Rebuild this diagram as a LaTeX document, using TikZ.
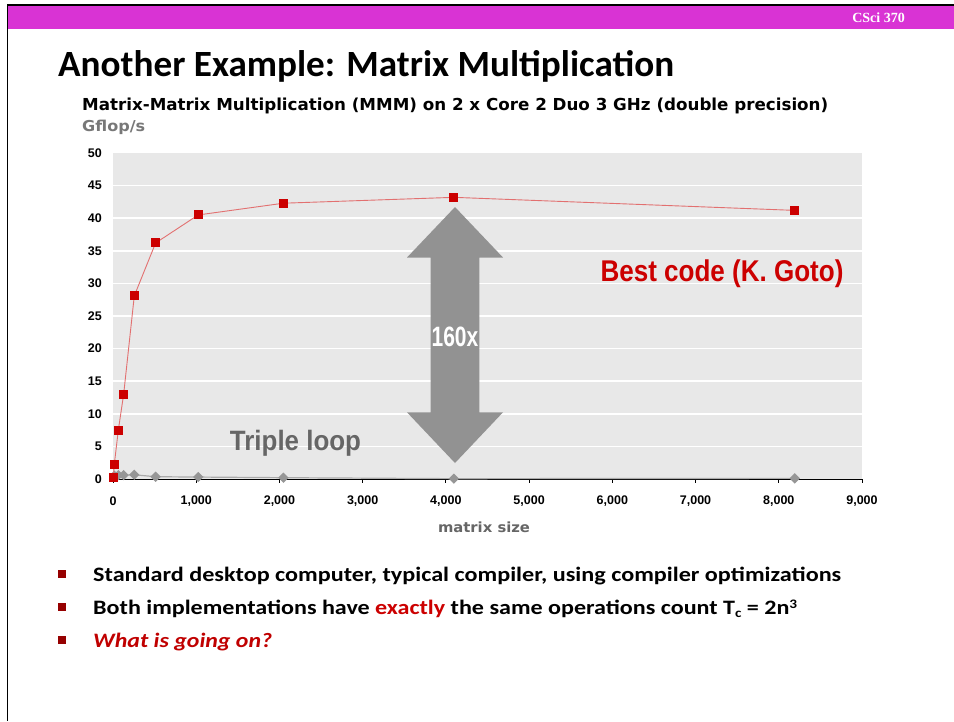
\documentclass[tikz,border=0pt]{standalone}
\usepackage{fontspec}
\usepackage{graphicx}
\usetikzlibrary{shapes.geometric}
\setmainfont{Carlito}
\newfontfamily\arialf{Liberation Sans}
\newfontfamily\verdf{DejaVu Sans}
\newfontfamily\timesf{Liberation Serif}
\definecolor{magbar}{RGB}{217,51,212}
\definecolor{plotbg}{RGB}{232,232,232}
\definecolor{bestred}{RGB}{204,0,0}
\definecolor{linered}{RGB}{226,112,112}
\definecolor{arrowgray}{RGB}{146,146,146}
\definecolor{diagray}{RGB}{150,150,150}
\definecolor{dialine}{RGB}{170,170,170}
\definecolor{txtgray}{RGB}{102,102,102}
\definecolor{lblgray}{RGB}{120,120,120}
\definecolor{bulletred}{RGB}{150,0,0}
\definecolor{darkred}{RGB}{192,0,0}
\tikzset{
  redsq/.style={rectangle, fill=bestred, draw=none, minimum size=9pt, inner sep=0pt},
  graydia/.style={diamond, fill=diagray, draw=none, minimum size=10.5pt, inner sep=0pt, aspect=1},
  ylab/.style={anchor=east, font=\arialf\bfseries\fontsize{12.5}{14}\selectfont, inner sep=0pt, xshift=-11pt},
  xlab/.style={anchor=center, font=\arialf\bfseries\fontsize{12.5}{14}\selectfont, inner sep=0pt, yshift=-22.5pt},
  bulletsq/.style={rectangle, fill=bulletred, draw=none, minimum size=8.5pt, inner sep=0pt},
  bullettext/.style={anchor=base west, inner sep=0pt, font=\bfseries\fontsize{20.5}{24}\selectfont},
  bigred/.style={anchor=base, inner sep=0pt, text=bestred, font=\arialf\bfseries\fontsize{30}{34}\selectfont},
}
\begin{document}
\begin{tikzpicture}[x=1pt,y=-1pt]
\useasboundingbox (0,0) rectangle (954,721);
\fill[white] (0,0) rectangle (954,721);
% header bar and frame
\fill[magbar] (8.3,6) rectangle (954,29);
\fill[black] (7,4) rectangle (954,6);
\fill[black] (7,4) rectangle (8.3,721);
\node[anchor=base east, inner sep=0pt, text=white, font=\timesf\bfseries\fontsize{14}{16}\selectfont] (course) at (905,22) {CSci 370};
% title
\node[anchor=base west, inner sep=0pt, font=\bfseries\fontsize{37}{40}\selectfont] (title) at (58,76)
  {\resizebox{616pt}{\height}{Another Example: Matrix Multiplication}};
% chart title
\node[anchor=base west, inner sep=0pt, font=\verdf\bfseries\fontsize{16.5}{18}\selectfont] (ctitle) at (82,110)
  {\resizebox{746pt}{\height}{Matrix-Matrix Multiplication (MMM) on 2 x Core 2 Duo 3 GHz (double precision)}};
\node[anchor=base west, inner sep=0pt, text=lblgray, font=\verdf\bfseries\fontsize{15}{16}\selectfont] (gflops) at (82,131)
  {\resizebox{63pt}{\height}{Gflop/s}};
% plot
\begin{scope}[xshift=113pt, yshift=-479pt, x=0.083222pt, y=6.52pt]
  \fill[plotbg] (0,0) rectangle (9000,50);
  \foreach \v in {5,10,...,45} \draw[white, line width=1.5pt] (0,\v) -- (9000,\v);
  \draw[black, line width=1pt] (0,0) -- (9000,0);
  \foreach \t in {0,1000,...,9000} \draw[black, line width=0.8pt] (\t,0) -- (\t,-0.6);
  \foreach \v in {0,5,...,50} \node[ylab] (yl\v) at (0,\v) {\v};
  \foreach \t/\lab [count=\k] in {0/0,1000/{1,000},2000/{2,000},3000/{3,000},4000/{4,000},5000/{5,000},6000/{6,000},7000/{7,000},8000/{8,000},9000/{9,000}}
    \node[xlab] (xl\k) at (\t,0) {\lab};
  % triple loop series
  \foreach \px/\py [count=\i] in {16/0.5,64/0.6,128/0.6,256/0.65,512/0.35,1024/0.3,2048/0.2,4096/0.05,8192/0.1}
    \coordinate (g\i) at (\px,\py);
  \foreach \i [evaluate=\i as \j using int(\i+1)] in {1,...,8} \draw[dialine, line width=1.2pt] (g\i) -- (g\j);
  \foreach \i in {1,...,9} \node[graydia] (gd\i) at (g\i) {};
  % best code series
  \foreach \px/\py [count=\i] in {4/0.3,16/2.3,64/7.5,128/13,256/28.1,512/36.2,1024/40.5,2048/42.3,4096/43.2,8192/41.2}
    \coordinate (r\i) at (\px,\py);
  \foreach \i [evaluate=\i as \j using int(\i+1)] in {1,...,9} \draw[linered, line width=0.9pt] (r\i) -- (r\j);
  \foreach \i in {1,...,10} \node[redsq] (rs\i) at (r\i) {};
\end{scope}
\node[anchor=base, inner sep=0pt, text=txtgray, font=\verdf\bfseries\fontsize{14}{16}\selectfont] (xtitle) at (484,532)
  {\resizebox{92pt}{\height}{matrix size}};
% 160x arrow
\fill[arrowgray] (455,207) -- (503,257.5) -- (479.3,257.5) -- (479.3,412.3) -- (503,412.3) -- (455,463)
  -- (407,412.3) -- (430.7,412.3) -- (430.7,257.5) -- (407,257.5) -- cycle;
\node[anchor=base, inner sep=0pt, text=white, font=\arialf\bfseries\fontsize{28}{32}\selectfont] (factor) at (455,346.7)
  {\resizebox{46.7pt}{\height}{160x}};
\node[bigred] (best) at (722,281.7) {\resizebox{243pt}{\height}{Best code (K. Goto)}};
\node[anchor=base, inner sep=0pt, text=txtgray, font=\arialf\bfseries\fontsize{28}{31}\selectfont] (triple) at (295.5,450)
  {\resizebox{131pt}{\height}{Triple loop}};
% bullets
\node[bulletsq] (b1) at (62,574) {};
\node[bulletsq] (b2) at (62,607) {};
\node[bulletsq] (b3) at (62,640) {};
\node[bullettext] (t1) at (93,581) {\resizebox{748pt}{\height}{Standard desktop computer, typical compiler, using compiler optimizations}};
\node[bullettext] (t2) at (93,614) {\resizebox{704pt}{\height}{Both implementations have \textcolor{bestred}{exactly} the same operations count T\raisebox{-3pt}{\fontsize{13}{14}\selectfont c} = 2n\raisebox{6pt}{\fontsize{13}{14}\selectfont 3}}};
\node[bullettext] (t3) at (93,647) {\resizebox{179pt}{\height}{\textcolor{darkred}{\itshape What is going on?}}};
\end{tikzpicture}
\end{document}
